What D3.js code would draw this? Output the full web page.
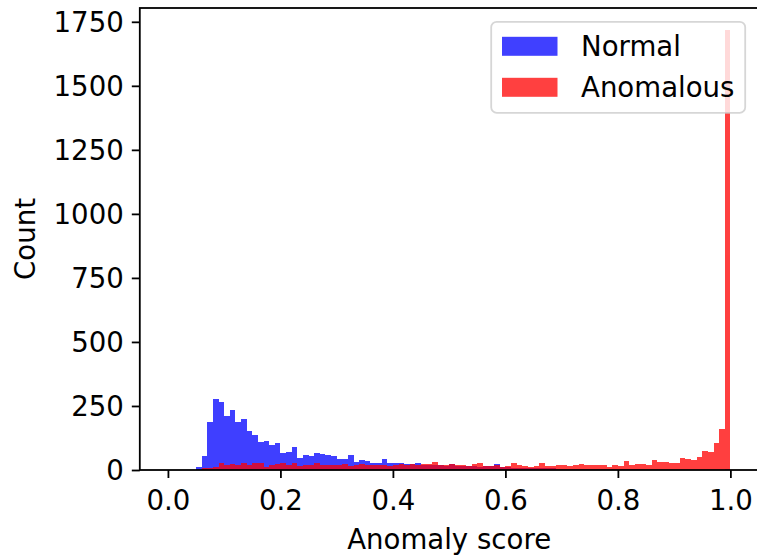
<!DOCTYPE html>
<html>
<head>
<meta charset="utf-8">
<script src="https://cdn.jsdelivr.net/npm/d3@7"></script>
<style>
  body { margin: 0; background: #fff; }
  svg { display: block; }
  text { font-family: "DejaVu Sans", sans-serif; fill: #000; }
</style>
</head>
<body>
<svg id="chart" width="757" height="557"></svg>
<script>
// histogram: 100 bins of width 0.01 from 0 to 1
const binStart = 0;
const binWidth = 0.01;

const normalCounts = [
  0, 0, 0, 0, 0, 10, 55, 186, 277, 264,
  211, 234, 186, 199, 151, 135, 109, 113, 98, 105,
  66, 70, 89, 48, 57, 53, 66, 62, 59, 55,
  43, 43, 59, 30, 39, 34, 27, 27, 43, 27,
  27, 27, 23, 23, 27, 21, 20, 18, 19, 16,
  24, 17, 15, 16, 14, 13, 14, 15, 25, 12,
  10, 9, 9, 8, 8, 7, 7, 6, 6, 5,
  5, 5, 4, 4, 4, 3, 3, 3, 3, 2,
  2, 2, 2, 2, 1, 1, 1, 1, 1, 1,
  1, 1, 1, 0, 1, 0, 1, 1, 1, 2
];

const anomalousCounts = [
  0, 0, 0, 0, 0, 0, 7, 9, 12, 26,
  21, 24, 18, 26, 21, 26, 26, 13, 21, 24,
  26, 21, 26, 17, 18, 21, 26, 21, 18, 20,
  19, 22, 17, 20, 22, 19, 21, 18, 20, 15,
  19, 22, 20, 24, 21, 22, 25, 30, 20, 18,
  22, 19, 20, 16, 24, 27, 17, 15, 20, 13,
  17, 26, 19, 16, 12, 14, 29, 14, 16, 19,
  18, 16, 19, 24, 21, 19, 18, 18, 13, 18,
  16, 34, 21, 23, 23, 21, 39, 30, 33, 29,
  29, 47, 43, 40, 52, 75, 70, 107, 159, 1718
];

const xTicks = [0, 0.2, 0.4, 0.6, 0.8, 1.0];
const yTicks = [0, 250, 500, 750, 1000, 1250, 1500, 1750];
const seriesNames = ["Normal", "Anomalous"];
const seriesColors = ["rgb(0,0,255)", "rgb(255,0,0)"];

const fs = 27.6;
const lw = 1.8;
const tickLen = 8;
const tickPad = 8;

const axLeft = 139.8, axRight = 758.5, axTop = 8, axBottom = 470;

const svg = d3.select("#chart");

const x = d3.scaleLinear().domain([-0.05, 1.05]).range([axLeft, axRight]);
const maxCount = d3.max(normalCounts.concat(anomalousCounts));
const y = d3.scaleLinear().domain([0, maxCount * 1.05]).range([axBottom, axTop]);

const bars = svg.append("g");

function drawSeries(counts, color) {
  bars.append("g")
    .attr("opacity", 0.75)
    .selectAll("rect")
    .data(counts)
    .join("rect")
    .attr("x", (d, i) => x(binStart + i * binWidth))
    .attr("width", (d, i) => x(binStart + (i + 1) * binWidth) - x(binStart + i * binWidth))
    .attr("y", d => y(d))
    .attr("height", d => y(0) - y(d))
    .attr("fill", color)
    .attr("shape-rendering", "crispEdges");
}

drawSeries(normalCounts, seriesColors[0]);
drawSeries(anomalousCounts, seriesColors[1]);

// axes
const xAxis = d3.axisBottom(x).tickValues(xTicks).tickFormat(d3.format(".1f"))
  .tickSize(tickLen).tickPadding(tickPad).tickSizeOuter(0);
const yAxis = d3.axisLeft(y).tickValues(yTicks).tickFormat(d3.format("d"))
  .tickSize(tickLen).tickPadding(tickPad).tickSizeOuter(0);

const gx = svg.append("g").attr("transform", `translate(0,${axBottom})`).call(xAxis);
const gy = svg.append("g").attr("transform", `translate(${axLeft},0)`).call(yAxis);

[gx, gy].forEach(g => {
  g.select(".domain").remove();
  g.selectAll(".tick line").attr("stroke", "#000").attr("stroke-width", lw);
  g.selectAll(".tick text").attr("font-size", fs).attr("font-family", "DejaVu Sans").attr("fill", "#000");
});
gx.selectAll(".tick text").attr("dy", "0.86em");
gy.selectAll(".tick text").attr("dy", "0.36em");

// spines
svg.append("rect")
  .attr("x", axLeft).attr("y", axTop)
  .attr("width", axRight - axLeft).attr("height", axBottom - axTop)
  .attr("fill", "none").attr("stroke", "#000").attr("stroke-width", lw);

// axis labels
svg.append("text")
  .attr("x", (axLeft + axRight) / 2).attr("y", 549)
  .attr("text-anchor", "middle").attr("font-size", fs)
  .text("Anomaly score");

svg.append("text")
  .attr("transform", `translate(35,${(axTop + axBottom) / 2}) rotate(-90)`)
  .attr("text-anchor", "middle").attr("font-size", fs)
  .text("Count");

// legend
const lgW = 254, lgH = 91;
const lgX = axRight - 13.3 - lgW, lgY = axTop + 13.8;
const legend = svg.append("g").attr("transform", `translate(${lgX},${lgY})`);
legend.append("rect")
  .attr("width", lgW).attr("height", lgH)
  .attr("rx", 5.5).attr("ry", 5.5)
  .attr("fill", "rgba(255,255,255,0.8)")
  .attr("stroke", "rgba(204,204,204,0.8)").attr("stroke-width", lw);

const items = legend.selectAll("g.item")
  .data(seriesNames)
  .join("g")
  .attr("class", "item")
  .attr("transform", (d, i) => `translate(10.8,${15 + i * 41})`);

items.append("rect")
  .attr("width", 55.5).attr("height", 19)
  .attr("fill", (d, i) => seriesColors[i])
  .attr("opacity", 0.75);

items.append("text")
  .attr("x", 79).attr("y", 9.5).attr("dy", "0.36em")
  .attr("font-size", fs)
  .text(d => d);
</script>
</body>
</html>
